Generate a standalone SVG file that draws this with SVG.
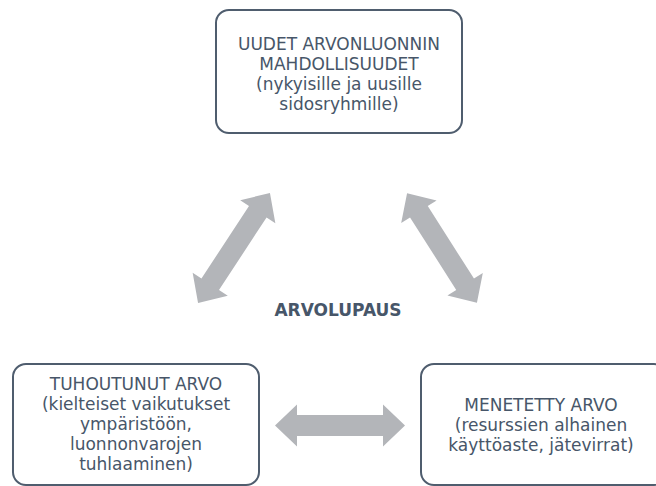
<svg xmlns="http://www.w3.org/2000/svg" width="656" height="486" viewBox="0 0 656 486">
<style>
.box{fill:#fff;stroke:#4f5d6e;stroke-width:2}
.t{font-family:"DejaVu Sans",Verdana,sans-serif;font-size:17px;fill:#475669;text-anchor:middle}
.b{font-weight:bold}
.arr{fill:#b3b5b9}
</style>
<defs>
<path id="dbl" d="M-65,0 L-43,-21 L-43,-10.5 L43,-10.5 L43,-21 L65,0 L43,21 L43,10.5 L-43,10.5 L-43,21 Z"/>
</defs>
<rect width="656" height="486" fill="#fff"/>
<g id="connectors" class="arr">
<use href="#dbl" transform="translate(234,248) rotate(-56.8) scale(1.01,1)"/>
<use href="#dbl" transform="translate(442,248) rotate(57.5) scale(1.0,1)"/>
<use href="#dbl" transform="translate(340,425.5)"/>
</g>
<g id="node-top">
<rect class="box" x="216" y="10" width="246" height="123" rx="13"/>
<text class="t" x="339" y="50">UUDET ARVONLUONNIN</text>
<text class="t" x="339" y="70">MAHDOLLISUUDET</text>
<text class="t" x="339" y="90">(nykyisille ja uusille</text>
<text class="t" x="339" y="110">sidosryhmille)</text>
</g>
<g id="node-left">
<rect class="box" x="13" y="364" width="246" height="121" rx="13"/>
<text class="t" x="136" y="390">TUHOUTUNUT ARVO</text>
<text class="t" x="136" y="410">(kielteiset vaikutukset</text>
<text class="t" x="136" y="430">ympäristöön,</text>
<text class="t" x="136" y="450">luonnonvarojen</text>
<text class="t" x="136" y="470">tuhlaaminen)</text>
</g>
<g id="node-right">
<rect class="box" x="421" y="364" width="246" height="121" rx="13"/>
<text class="t" x="541" y="411">MENETETTY ARVO</text>
<text class="t" x="541" y="431">(resurssien alhainen</text>
<text class="t" x="541" y="451">käyttöaste, jätevirrat)</text>
</g>
<g id="center-label">
<text class="t b" x="338" y="316">ARVOLUPAUS</text>
</g>
</svg>
